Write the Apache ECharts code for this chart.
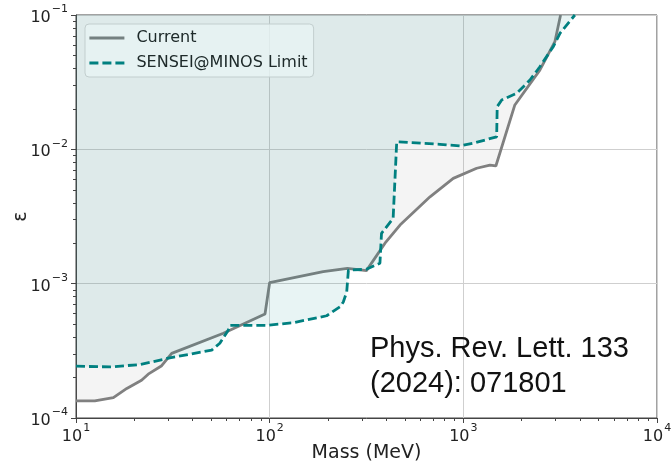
<!DOCTYPE html>
<html>
<head>
<meta charset="utf-8">
<script src="https://cdn.jsdelivr.net/npm/echarts@6/dist/echarts.min.js"></script>
<style>
html,body{margin:0;padding:0;background:#fff;}
#chart{width:671px;height:462px;}
</style>
</head>
<body>
<div id="chart"></div>
<script>
// ---- data ----
const currentMass = [10, 12.5, 15.6, 18.3, 21.8, 23.6, 27.7, 31.2, 57.7, 94.6, 100, 189, 252, 316, 394, 471, 673, 887, 1172, 1372, 1472, 1845, 2483, 2970, 3178];
const currentEps  = [1.34e-4, 1.34e-4, 1.42e-4, 1.66e-4, 1.91e-4, 2.12e-4, 2.45e-4, 3.03e-4, 4.27e-4, 5.94e-4, 1.02e-3, 1.23e-3, 1.30e-3, 1.25e-3, 2.0e-3, 2.73e-3, 4.43e-3, 6.08e-3, 7.23e-3, 7.64e-3, 7.52e-3, 2.14e-2, 3.89e-2, 6.33e-2, 0.1];

const senseiMass = [10, 15, 21.4, 30.5, 50.2, 55.3, 61.1, 62.4, 70.3, 96.6, 132, 197, 231, 240, 250, 255, 316, 371, 378, 434, 453, 757, 960, 1125, 1486, 1496, 1578, 1884, 2208, 2484, 2911, 3155, 3767];
const senseiEps  = [2.43e-4, 2.4e-4, 2.5e-4, 2.8e-4, 3.2e-4, 3.6e-4, 4.5e-4, 4.9e-4, 4.9e-4, 4.9e-4, 5.12e-4, 5.77e-4, 6.73e-4, 7.3e-4, 8.7e-4, 1.26e-3, 1.28e-3, 1.42e-3, 2.37e-3, 3.06e-3, 1.14e-2, 1.09e-2, 1.06e-2, 1.11e-2, 1.24e-2, 2.08e-2, 2.33e-2, 2.61e-2, 3.28e-2, 4.12e-2, 5.8e-2, 7.31e-2, 0.1];

const seriesNames = ['Current', 'SENSEI@MINOS Limit'];
const xRange = [10, 10000];
const yRange = [1e-4, 1e-1];
const annotation = ['Phys. Rev. Lett. 133', '(2024): 071801'];

// minor tick positions (log10 space) for decoration axes
function minorLogs(lo, hi) {
  const out = [];
  for (let e = lo; e < hi; e++) for (let k = 2; k <= 9; k++) out.push(e + Math.log10(k));
  return out;
}

const FONT = 'DejaVu Sans';
const AX = '#444';

function expLabel(v) {
  const e = Math.round(Math.log10(v));
  const s = e < 0 ? '\u2212' + (-e) : String(e);
  return '{b|10}{s|' + s + '}';
}
const labelRich = {
  b: {fontFamily: FONT, fontSize: 16, color: '#222', lineHeight: 22, verticalAlign: 'bottom'},
  s: {fontFamily: FONT, fontSize: 11, color: '#222', lineHeight: 22, verticalAlign: 'top', padding: [0,0,0,1]}
};

const chart = echarts.init(document.getElementById('chart'), null, {renderer: 'canvas'});
chart.setOption({
  animation: false,
  backgroundColor: '#fff',
  grid: {left: 76, right: 14, top: 15, bottom: 44, show: true, borderColor: AX, borderWidth: 1,
         backgroundColor: 'transparent', containLabel: false, outerBoundsMode: 'none'},
  legend: {
    orient: 'vertical', left: 85, top: 24,
    data: seriesNames,
    backgroundColor: 'rgba(255,255,255,0.8)',
    borderColor: '#d6d6d6', borderWidth: 1, borderRadius: 4,
    padding: [6, 6, 6, 3],
    itemGap: 9, itemWidth: 35, itemHeight: 14,
    itemStyle: {opacity: 0, borderWidth: 0},
    lineStyle: {width: 2.8},
    textStyle: {fontFamily: FONT, fontSize: 16, color: '#222', padding: [0,0,0,7]}
  },
  xAxis: [{
    type: 'log', logBase: 10, min: xRange[0], max: xRange[1], interval: 1,
    name: 'Mass (MeV)', nameLocation: 'middle', nameGap: 26, nameMoveOverlap: false,
    nameTextStyle: {fontFamily: FONT, fontSize: 19, color: '#222'},
    axisLine: {show: true, lineStyle: {color: AX, width: 1}},
    axisTick: {show: true, length: 5, lineStyle: {color: AX}},
    axisLabel: {formatter: expLabel, rich: labelRich, margin: 5},
    splitLine: {show: true, lineStyle: {color: '#cfcfcf', width: 1}},
    minorTick: {show: false}
  }, {
    type: 'value', min: 1, max: 4, position: 'bottom', gridIndex: 0,
    axisLine: {show: false}, axisLabel: {show: false}, splitLine: {show: false},
    axisTick: {show: true, length: 3, customValues: minorLogs(1, 4), lineStyle: {color: AX}}
  }],
  yAxis: [{
    type: 'log', logBase: 10, min: yRange[0], max: yRange[1], interval: 1,
    name: '\u03b5', nameLocation: 'middle', nameGap: 45, nameRotate: 90, nameMoveOverlap: false,
    nameTextStyle: {fontFamily: FONT, fontSize: 19, color: '#222'},
    axisLine: {show: true, lineStyle: {color: AX, width: 1}},
    axisTick: {show: true, length: 5, lineStyle: {color: AX}},
    axisLabel: {formatter: expLabel, rich: labelRich, margin: 8},
    splitLine: {show: true, lineStyle: {color: '#cfcfcf', width: 1}}
  }, {
    type: 'value', min: -4, max: -1, position: 'left', gridIndex: 0,
    axisLine: {show: false}, axisLabel: {show: false}, splitLine: {show: false},
    axisTick: {show: true, length: 3, customValues: minorLogs(-4, -1), lineStyle: {color: AX}}
  }],
  series: [{
    name: seriesNames[0], type: 'line', xAxisIndex: 0, yAxisIndex: 0,
    data: currentMass.map((m, i) => [m, currentEps[i]]),
    symbol: 'none', z: 3,
    lineStyle: {color: '#808080', width: 2.8},
    itemStyle: {color: '#808080'},
    areaStyle: {origin: 'end', color: 'rgba(128,128,128,0.13)'}
  }, {
    name: seriesNames[1], type: 'line', xAxisIndex: 0, yAxisIndex: 0,
    data: senseiMass.map((m, i) => [m, senseiEps[i]]),
    symbol: 'none', z: 4,
    lineStyle: {color: '#008080', width: 2.8, type: [9, 4]},
    itemStyle: {color: '#008080'},
    areaStyle: {origin: 'end', color: 'rgba(0,128,128,0.13)'}
  }],
  graphic: [{
    type: 'text', left: 370, top: 331, z: 10,
    style: {text: annotation.join('\n'), fontFamily: 'Liberation Sans', fontSize: 29, lineHeight: 35, fill: '#111'}
  }]
});
</script>
</body>
</html>
